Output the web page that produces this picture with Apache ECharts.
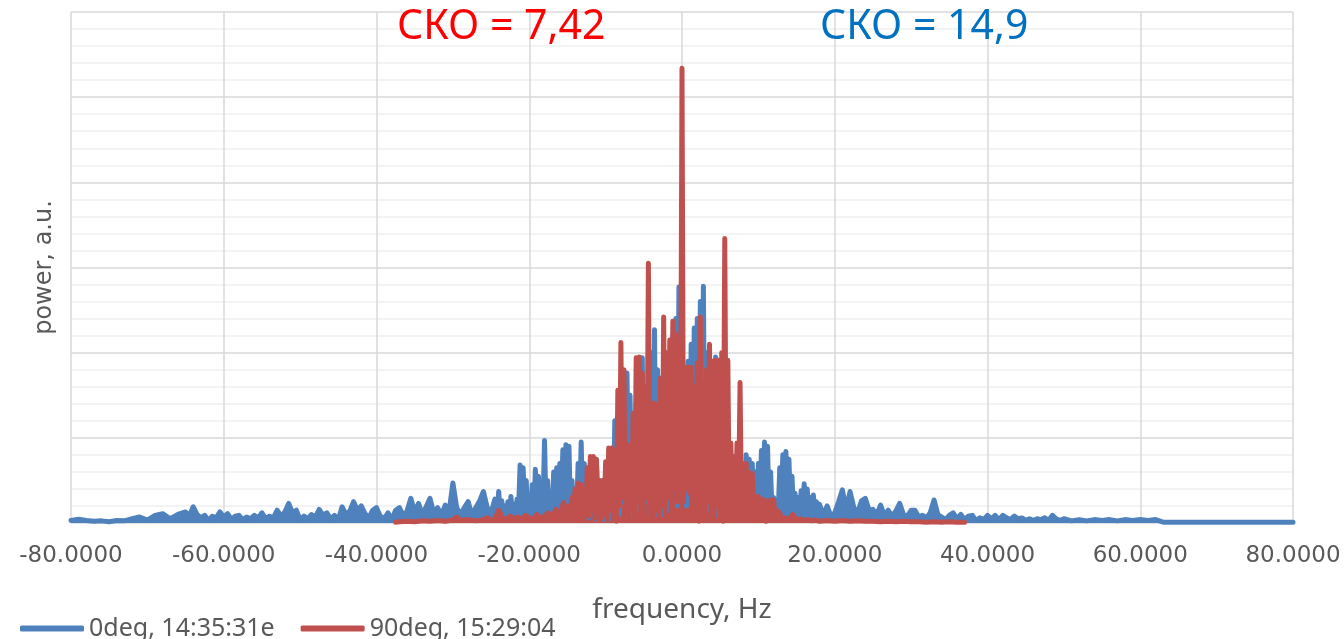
<!DOCTYPE html>
<html>
<head>
  <meta charset="utf-8" />
  <title>spectrum</title>
  <script src="https://cdn.jsdelivr.net/npm/echarts@6.0.0/dist/echarts.min.js"></script>
  <style>
    body { margin: 0; background: #fff; }
  </style>
</head>
<body>
  <div id="main" style="width: 1344px;height:639px;"></div>
  <script type="text/javascript">
    // spectrum data: [frequency, power]
    const blue0deg = [
      [-80,0.3],[-79,0.45],[-78,0.3],[-77,0.2],[-76,0.25],[-75,0.15],[-74,0.3],[-73,0.25],[-72,0.5],[-71,0.7],
      [-70,0.35],[-69,0.9],[-68,1.1],[-67,0.5],[-66,1.0],[-65,1.3],
      [-64.5,0.8],[-64,1.9],[-63.5,1.0],[-63,0.6],[-62.5,0.9],[-62,0.3],[-61.5,0.8],[-61,0.6],[-60.5,1.3],[-60,0.7],
      [-59.5,1.1],[-59,0.4],[-58.5,0.8],[-58,0.9],[-57.5,0.4],[-57,0.7],[-56.5,0.5],[-56,0.9],[-55.5,0.6],[-55,1.2],
      [-54.5,0.5],[-54,0.8],[-53.5,0.6],[-53,1.5],[-52.5,0.8],[-52,1.3],[-51.5,2.3],[-51,1.2],[-50.5,1.5],[-50,0.4],
      [-49.5,0.8],[-49,0.5],[-48.5,1.0],[-48,0.7],[-47.5,1.6],[-47,0.9],[-46.5,1.2],[-46,0.5],[-45.5,0.9],[-45,0.4],
      [-44.5,1.9],[-44,1.0],[-43.5,1.4],[-43,2.5],[-42.5,1.5],[-42,2.0],[-41.5,1.1],[-41,0.6],[-40.5,1.5],
      [-40,1.8],[-39.5,0.8],[-39,0.5],[-38.5,1.2],[-38,0.4],[-37.5,1.5],[-37,1.8],[-36.5,0.9],[-36,1.4],[-35.5,2.9],
      [-35,1.3],[-34.5,2.3],[-34,1.0],[-33.5,1.9],[-33,2.9],[-32.5,1.2],[-32,1.8],[-31.5,0.9],[-31,2.1],[-30.5,1.3],
      [-30,4.7],[-29.5,1.8],[-29,1.0],[-28.5,1.8],[-28,2.5],[-27.5,0.9],[-27,1.8],[-26.5,2.6],[-26,3.7],[-25.5,1.8],
      [-25,1.2],[-24.5,2.8],
      [-24.2,1.2],[-24,3.7],[-23.8,1.0],[-23.6,2.6],[-23.4,0.8],[-23.2,2.0],[-23,1.0],[-22.8,2.5],[-22.6,1.2],[-22.4,3.1],
      [-22.2,0.8],[-22,2.2],[-21.8,1.0],[-21.6,2.8],[-21.4,1.5],[-21.2,6.8],[-21,2.0],[-20.8,6.5],[-20.6,1.5],[-20.4,5.0],
      [-20.2,1.0],[-20,3.0],[-19.8,1.5],[-19.6,4.5],[-19.4,1.0],[-19.2,6.3],[-19,2.0],[-18.8,5.5],[-18.6,1.2],[-18.4,4.0],
      [-18.2,2.0],[-18,9.7],[-17.8,1.5],[-17.6,5.0],[-17.4,1.0],[-17.2,3.5],[-17,0.8],[-16.8,6.0],[-16.6,2.0],[-16.4,6.5],
      [-16.2,1.5],[-16,7.0],[-15.8,2.5],[-15.6,8.6],[-15.4,1.5],[-15.2,9.2],[-15,2.0],[-14.8,9.0],[-14.6,1.0],[-14.4,5.0],
      [-14.2,0.8],[-14,3.5],[-13.8,1.2],[-13.6,7.0],[-13.4,2.0],[-13.2,9.5],[-13,1.5],[-12.8,7.0],[-12.6,1.0],[-12.4,5.5],
      [-12.2,0.6],[-12,4.0],[-11.8,1.0],[-11.6,6.0],[-11.4,0.5],[-11.2,7.0],[-11,1.5],[-10.8,5.0],[-10.6,0.8],[-10.4,4.5],
      [-10.2,0.4],[-10,6.0],[-9.8,1.0],[-9.6,5.0],[-9.4,0.5],[-9.2,7.5],[-9,1.0],[-8.8,12.0],[-8.6,2.0],[-8.4,8.0],
      [-8.2,1.0],[-8,10.0],[-7.8,2.5],[-7.6,12.0],[-7.4,1.5],[-7.2,17.6],[-7,2.0],[-6.8,15.0],[-6.6,1.0],[-6.4,11.0],
      [-6.2,3.0],[-6,14.0],[-5.8,1.5],[-5.6,16.0],[-5.4,2.0],[-5.2,19.4],[-5,1.0],[-4.8,15.0],[-4.6,2.5],[-4.4,12.0],
      [-4.2,1.5],[-4,20.0],[-3.8,3.0],[-3.6,22.7],[-3.4,1.0],[-3.2,18.0],[-3,2.0],[-2.8,12.0],[-2.6,1.0],[-2.4,15.0],
      [-2.2,3.0],[-2,18.0],[-1.8,1.5],[-1.6,20.0],[-1.4,2.5],[-1.2,22.0],[-1,4.0],[-0.8,24.0],[-0.6,2.0],[-0.4,27.7],
      [-0.2,5.0],[0,20.0],[0.2,3.0],[0.4,17.0],[0.6,2.0],[0.8,19.0],[1,4.0],[1.2,21.0],[1.4,2.5],[1.6,22.9],
      [1.8,3.0],[2,24.0],[2.2,5.0],[2.4,26.0],[2.6,2.0],[2.8,27.8],[3,3.0],[3.2,20.0],[3.4,1.5],[3.6,17.0],
      [3.8,3.0],[4,18.0],[4.2,2.0],[4.4,19.5],[4.6,1.0],[4.8,17.0],[5,2.5],[5.2,15.0],[5.4,1.5],[5.6,12.0],
      [5.8,2.0],[6,9.3],[6.2,1.0],[6.4,8.0],[6.6,2.0],[6.8,7.0],[7,1.0],[7.2,6.5],[7.4,1.5],[7.6,7.0],
      [7.8,0.8],[8,6.0],[8.2,1.5],[8.4,8.0],[8.6,1.0],[8.8,7.5],[9,2.0],[9.2,7.0],[9.4,1.0],[9.6,6.0],
      [9.8,1.5],[10,7.0],[10.2,2.0],[10.4,8.5],[10.6,1.5],[10.8,9.5],[11,2.5],[11.2,9.0],[11.4,1.5],[11.6,6.0],
      [11.8,1.0],[12,3.0],[12.2,0.8],[12.4,2.0],[12.6,1.2],[12.8,6.5],[13,2.0],[13.2,8.0],[13.4,3.0],[13.6,8.4],
      [13.8,2.5],[14,7.5],[14.2,2.0],[14.4,5.5],[14.6,1.5],[14.8,3.5],[15,1.2],[15.2,3.0],[15.4,1.0],[15.6,3.8],
      [15.8,1.5],[16,4.6],[16.2,1.5],[16.4,4.0],[16.6,1.0],[16.8,3.0],[17,1.2],[17.2,3.3],[17.4,1.0],[17.6,2.5],
      [17.8,0.8],[18,2.2],
      [18.5,1.0],[19,2.0],[19.5,0.8],[20,1.2],[20.5,2.5],[21,3.9],[21.5,1.5],[22,3.7],[22.5,1.8],[23,1.2],
      [23.5,2.6],[24,2.9],[24.5,1.5],[25,1.6],[25.5,1.0],[26,2.1],[26.5,0.9],[27,1.5],[27.5,0.8],[28,1.4],
      [28.5,2.3],[29,1.0],[29.5,0.8],[30,1.5],[30.5,1.5],[31,0.7],[31.5,0.9],[32,0.6],[32.5,1.2],[33,2.7],
      [33.5,1.0],[34,0.7],[34.5,0.4],[35,0.9],[35.5,1.2],[36,0.5],[36.5,1.0],[37,0.4],[37.5,0.8],[38,0.9],
      [38.5,0.3],[39,0.6],[39.5,0.4],[40,0.9],[40.5,0.5],[41,0.9],[41.5,0.4],[42,0.9],[42.5,0.6],[43,0.4],
      [43.5,0.8],[44,0.5],[44.5,0.6],[45,0.3],[45.5,0.5],[46,0.3],[46.5,0.5],[47,0.4],[47.5,0.6],[48,0.3],
      [48.5,0.9],[49,0.5],[49.5,0.3],[50,0.5],[51,0.25],[52,0.4],[53,0.25],[54,0.4],[55,0.3],[56,0.4],
      [57,0.25],[58,0.4],[59,0.3],[60,0.4],[61,0.3],[62,0.4],[63,0.1],[65,0.08],[68,0.08],[72,0.08],
      [76,0.08],[80,0.08]
    ];
    const red90deg = [
      [-37.5,0.1],[-37,0.15],[-36,0.2],[-35,0.15],[-34,0.25],[-33,0.2],[-32,0.3],[-31,0.2],[-30,0.35],[-29.5,0.7],
      [-29,0.3],[-28,0.4],[-27,0.25],[-26,0.4],[-25.5,0.6],[-25,0.3],[-24.5,0.5],[-24,1.5],[-23.5,0.6],[-23,0.4],
      [-22.5,0.8],[-22,0.5],[-21.5,0.7],[-21,0.4],[-20.5,0.9],[-20,0.6],[-19.5,0.4],[-19,1.0],[-18.5,0.5],[-18,0.8],
      [-17.5,1.2],[-17,0.6],[-16.5,1.6],[-16,1.0],[-15.5,2.4],
      [-15,0.8],[-14.8,2.0],[-14.6,0.6],[-14.4,3.0],[-14.2,1.0],[-14,4.0],[-13.8,0.5],[-13.6,4.7],[-13.4,1.5],[-13.2,4.5],
      [-13,0.4],[-12.8,3.5],[-12.6,1.0],[-12.4,6.5],[-12.2,0.8],[-12,7.8],[-11.8,1.5],[-11.6,7.8],[-11.4,0.6],[-11.2,7.5],
      [-11,1.2],[-10.8,5.0],[-10.6,0.5],[-10.4,5.0],[-10.2,1.0],[-10,7.2],[-9.8,0.4],[-9.6,8.8],[-9.4,1.5],[-9.2,8.8],
      [-9,0.3],[-8.8,8.5],[-8.6,0.2],[-8.4,15.6],[-8.2,2.0],[-8,21.2],[-7.8,3.0],[-7.6,18.0],[-7.4,1.0],[-7.2,9.2],
      [-7,0.5],[-6.8,9.0],[-6.6,1.5],[-6.4,12.9],[-6.2,0.8],[-6,19.4],[-5.8,2.5],[-5.6,19.5],[-5.4,1.0],[-5.2,17.6],
      [-5,0.4],[-4.8,16.0],[-4.6,3.0],[-4.4,30.5],[-4.2,0.3],[-4,14.0],[-3.8,0.5],[-3.6,14.1],[-3.4,1.5],[-3.2,13.8],
      [-3,0.8],[-2.8,17.0],[-2.6,2.0],[-2.4,24.2],[-2.2,1.0],[-2,20.0],[-1.8,3.0],[-1.6,21.5],[-1.4,0.6],[-1.2,23.7],
      [-1,4.0],[-0.8,22.2],[-0.6,2.5],[-0.4,18.3],[-0.2,3.0],[0,53.4],[0.2,2.5],[0.4,18.3],[0.6,4.0],[0.8,18.3],
      [1,3.5],[1.2,18.3],[1.4,0.5],[1.6,16.0],[1.8,2.0],[2,18.8],[2.2,0.2],[2.4,24.2],[2.6,1.5],[2.8,16.4],
      [3,0.8],[3.2,18.0],[3.4,2.5],[3.6,21.0],[3.8,0.3],[4,19.0],[4.2,1.0],[4.4,19.1],[4.6,2.0],[4.8,19.1],
      [5,0.5],[5.2,20.0],[5.4,0.2],[5.6,33.4],[5.8,1.5],[6,19.1],[6.2,0.4],[6.4,9.4],[6.6,1.0],[6.8,7.8],
      [7,0.3],[7.2,9.4],[7.4,1.2],[7.6,16.5],[7.8,0.5],[8,7.0],[8.2,1.0],[8.4,7.0],[8.6,0.3],[8.8,5.9],
      [9,0.8],[9.2,5.8],[9.4,0.3],[9.6,3.1],[9.8,0.6],[10,3.1],[10.2,0.3],[10.4,2.8],[10.6,0.5],[10.8,2.7],
      [11,0.2],[11.2,2.5],[11.4,0.5],[11.6,2.7],[11.8,0.3],[12,2.7],[12.2,0.4],[12.4,1.5],[12.6,0.3],[12.8,1.2],
      [13,0.3],[13.5,0.6],[14,0.4],[14.5,1.0],[15,0.3],[15.5,0.5],[16,0.3],[16.5,0.4],[17,0.25],[17.5,0.35],
      [18,0.2],[19,0.3],[20,0.2],[21,0.3],[22,0.2],[23,0.25],[24,0.2],[25,0.2],[26,0.15],[27,0.2],
      [28,0.15],[29,0.2],[30,0.15],[31,0.15],[32,0.1],[33,0.15],[34,0.1],[35,0.15],[36,0.1],[37,0.1]
    ];
    const seriesNames = ['0deg, 14:35:31e', '90deg, 15:29:04'];
    const skoLabels = ['СКО = 7,42', 'СКО = 14,9'];

    var myChart = echarts.init(document.getElementById('main'));
    let fontColor = '#595959';
    let blue = '#4f81bd', red = '#c0504d';

    var option = {
      animation: false,
      backgroundColor: '#fff',
      title: [{
        text: skoLabels[0],
        left: 397, top: 7, padding: 0,
        textStyle: { color: '#ff0000', fontSize: 41, fontWeight: 'normal', fontFamily: 'Noto Sans' }
      }, {
        text: skoLabels[1],
        left: 820, top: 7, padding: 0,
        textStyle: { color: '#0070c0', fontSize: 41, fontWeight: 'normal', fontFamily: 'Noto Sans' }
      }],
      legend: {
        left: 15, top: 611,
        itemWidth: 64, itemHeight: 6, itemGap: 26,
        icon: 'roundRect',
        textStyle: { color: fontColor, fontSize: 25, fontFamily: 'Noto Sans' },
        data: seriesNames
      },
      grid: { left: 71, right: 51, top: 12, bottom: 116 },
      xAxis: {
        type: 'value', min: -80, max: 80, interval: 20,
        name: 'frequency, Hz', nameLocation: 'middle', nameGap: 73,
        nameTextStyle: { color: fontColor, fontSize: 28, fontFamily: 'Noto Sans' },
        axisLine: { show: false },
        axisTick: { show: false },
        axisLabel: {
          margin: 22, color: fontColor, fontSize: 23, fontFamily: 'DejaVu Sans',
          showMinLabel: true, showMaxLabel: true,
          formatter: v => v.toFixed(4)
        },
        splitLine: { lineStyle: { color: '#d9d9d9', width: 1.5 } }
      },
      yAxis: {
        type: 'value', min: 0, max: 60, interval: 10,
        name: 'power, a.u.', nameLocation: 'middle', nameGap: 14,
        nameTextStyle: { color: fontColor, fontSize: 24, fontFamily: 'DejaVu Sans' },
        axisLine: { show: false },
        axisTick: { show: false },
        axisLabel: { show: false },
        splitLine: { lineStyle: { color: '#d9d9d9', width: 1.5 } },
        minorTick: { show: false, splitNumber: 5 },
        minorSplitLine: { show: true, lineStyle: { color: '#efefef', width: 1.5 } }
      },
      series: [{
        name: seriesNames[0], type: 'line', data: blue0deg,
        showSymbol: false,
        itemStyle: { color: blue },
        lineStyle: { color: blue, width: 5, cap: 'round', join: 'round' },
        areaStyle: { color: blue, opacity: 1 }
      }, {
        name: seriesNames[1], type: 'line', data: red90deg,
        showSymbol: false,
        itemStyle: { color: red },
        lineStyle: { color: red, width: 5, cap: 'round', join: 'round' },
        areaStyle: { color: red, opacity: 1 }
      }]
    };
    myChart.setOption(option);
  </script>
</body>
</html>
